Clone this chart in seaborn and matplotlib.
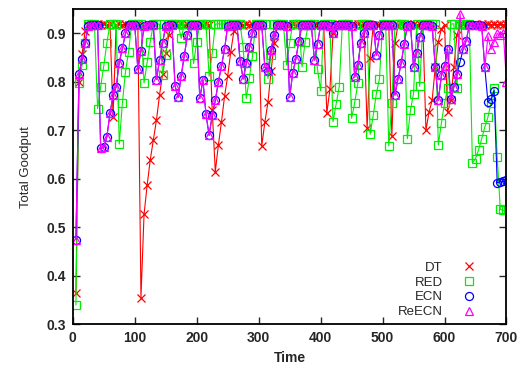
import numpy as np
import pandas as pd
import matplotlib
matplotlib.use("Agg")
import matplotlib.pyplot as plt
from matplotlib.lines import Line2D
import seaborn as sns

time = list(range(5, 705, 5))

dt = [
    0.365, 0.800, 0.858, 0.905, 0.918, 0.919, 0.918, 0.919, 0.918, 0.919,
    0.918, 0.919, 0.728, 0.918, 0.919, 0.918, 0.919, 0.918, 0.919, 0.918,
    0.919, 0.355, 0.527, 0.587, 0.639, 0.680, 0.721, 0.773, 0.817, 0.859,
    0.897, 0.918, 0.919, 0.918, 0.919, 0.918, 0.919, 0.918, 0.919, 0.918,
    0.919, 0.918, 0.919, 0.918, 0.743, 0.615, 0.670, 0.718, 0.771, 0.812,
    0.862, 0.905, 0.918, 0.919, 0.918, 0.919, 0.918, 0.919, 0.918, 0.919,
    0.668, 0.717, 0.758, 0.822, 0.880, 0.918, 0.919, 0.918, 0.919, 0.918,
    0.919, 0.918, 0.919, 0.918, 0.919, 0.918, 0.919, 0.918, 0.919, 0.918,
    0.918, 0.735, 0.785, 0.900, 0.918, 0.919, 0.918, 0.919, 0.918, 0.919,
    0.918, 0.919, 0.918, 0.919, 0.704, 0.850, 0.918, 0.919, 0.918, 0.919,
    0.918, 0.919, 0.688, 0.880, 0.918, 0.919, 0.918, 0.919, 0.918, 0.919,
    0.918, 0.919, 0.918, 0.700, 0.738, 0.762, 0.830, 0.883, 0.910, 0.918,
    0.738, 0.762, 0.830, 0.896, 0.918, 0.919, 0.918, 0.919, 0.918, 0.919,
    0.918, 0.919, 0.918, 0.919, 0.918, 0.919, 0.918, 0.919, 0.918, 0.919,
]

red = [
    0.340, 0.798, 0.835, 0.880, 0.919, 0.920, 0.919, 0.745, 0.790, 0.833,
    0.881, 0.919, 0.920, 0.919, 0.672, 0.756, 0.821, 0.862, 0.919, 0.920,
    0.919, 0.920, 0.798, 0.841, 0.883, 0.919, 0.920, 0.919, 0.814, 0.855,
    0.919, 0.920, 0.919, 0.920, 0.890, 0.919, 0.920, 0.919, 0.838, 0.883,
    0.919, 0.920, 0.919, 0.812, 0.859, 0.919, 0.920, 0.919, 0.920, 0.919,
    0.920, 0.919, 0.920, 0.919, 0.872, 0.766, 0.808, 0.853, 0.919, 0.920,
    0.919, 0.920, 0.807, 0.855, 0.919, 0.920, 0.919, 0.920, 0.835, 0.881,
    0.919, 0.920, 0.919, 0.831, 0.883, 0.919, 0.920, 0.919, 0.826, 0.782,
    0.919, 0.920, 0.919, 0.718, 0.754, 0.790, 0.919, 0.920, 0.919, 0.725,
    0.757, 0.797, 0.919, 0.920, 0.919, 0.692, 0.732, 0.776, 0.807, 0.919,
    0.920, 0.668, 0.756, 0.919, 0.920, 0.919, 0.920, 0.683, 0.742, 0.776,
    0.919, 0.791, 0.919, 0.920, 0.919, 0.920, 0.919, 0.670, 0.716, 0.756,
    0.787, 0.919, 0.920, 0.787, 0.919, 0.920, 0.919, 0.919, 0.633, 0.642,
    0.660, 0.683, 0.707, 0.727, 0.757, 0.787, 0.646, 0.537, 0.535, 0.536,
]

ecn = [
    0.475, 0.817, 0.847, 0.881, 0.915, 0.918, 0.917, 0.918, 0.663, 0.665,
    0.687, 0.735, 0.773, 0.790, 0.840, 0.869, 0.900, 0.917, 0.918, 0.917,
    0.826, 0.864, 0.916, 0.918, 0.917, 0.917, 0.805, 0.845, 0.881, 0.916,
    0.918, 0.917, 0.792, 0.768, 0.813, 0.854, 0.896, 0.917, 0.918, 0.917,
    0.766, 0.804, 0.733, 0.690, 0.731, 0.762, 0.800, 0.833, 0.868, 0.916,
    0.918, 0.917, 0.917, 0.844, 0.806, 0.838, 0.871, 0.901, 0.917, 0.918,
    0.917, 0.830, 0.822, 0.866, 0.896, 0.917, 0.918, 0.917, 0.916, 0.768,
    0.819, 0.847, 0.885, 0.917, 0.918, 0.917, 0.917, 0.845, 0.879, 0.917,
    0.918, 0.917, 0.916, 0.900, 0.917, 0.918, 0.917, 0.918, 0.917, 0.916,
    0.810, 0.835, 0.881, 0.900, 0.917, 0.918, 0.917, 0.855, 0.896, 0.917,
    0.918, 0.917, 0.917, 0.773, 0.807, 0.838, 0.879, 0.916, 0.918, 0.831,
    0.860, 0.892, 0.917, 0.918, 0.917, 0.916, 0.831, 0.762, 0.814, 0.833,
    0.867, 0.764, 0.789, 0.816, 0.841, 0.867, 0.885, 0.917, 0.918, 0.917,
    0.917, 0.916, 0.830, 0.759, 0.764, 0.782, 0.592, 0.594, 0.595, 0.597,
]

reecn = [
    0.475, 0.817, 0.847, 0.881, 0.915, 0.918, 0.917, 0.918, 0.663, 0.665,
    0.687, 0.735, 0.773, 0.790, 0.840, 0.869, 0.900, 0.917, 0.918, 0.917,
    0.826, 0.864, 0.916, 0.918, 0.917, 0.917, 0.805, 0.845, 0.881, 0.916,
    0.918, 0.917, 0.792, 0.768, 0.813, 0.854, 0.896, 0.917, 0.918, 0.917,
    0.766, 0.804, 0.733, 0.690, 0.731, 0.762, 0.800, 0.833, 0.868, 0.916,
    0.918, 0.917, 0.917, 0.844, 0.806, 0.838, 0.871, 0.901, 0.917, 0.918,
    0.917, 0.830, 0.822, 0.866, 0.896, 0.917, 0.918, 0.917, 0.916, 0.768,
    0.819, 0.847, 0.885, 0.917, 0.918, 0.917, 0.917, 0.845, 0.879, 0.917,
    0.918, 0.917, 0.916, 0.900, 0.917, 0.918, 0.917, 0.918, 0.917, 0.916,
    0.810, 0.835, 0.881, 0.900, 0.917, 0.918, 0.917, 0.855, 0.896, 0.917,
    0.918, 0.917, 0.917, 0.773, 0.807, 0.838, 0.879, 0.916, 0.918, 0.831,
    0.860, 0.892, 0.917, 0.918, 0.917, 0.916, 0.831, 0.762, 0.814, 0.833,
    0.867, 0.764, 0.789, 0.816, 0.941, 0.867, 0.885, 0.917, 0.918, 0.917,
    0.917, 0.916, 0.830, 0.894, 0.867, 0.883, 0.900, 0.896, 0.900, 0.800,
]

series_names = ["DT", "RED", "ECN", "ReECN"]
series_values = [dt, red, ecn, reecn]
colors = ["#ff0000", "#00ee00", "#0000ff", "#ff00ff"]
markers = ["x", "s", "o", "^"]
msizes = [5.8, 6.2, 5.8, 6.2]

sns.set_style("ticks")
plt.rcParams["font.family"] = ["Liberation Sans", "DejaVu Sans"]

fig = plt.figure(figsize=(5.2, 3.67), dpi=100)
ax = fig.add_axes([0.14, 0.116, 0.834, 0.859])

for name, vals, c, m, ms in zip(series_names, series_values, colors, markers, msizes):
    df = pd.DataFrame({"Time": time, "Goodput": vals})
    sns.lineplot(data=df, x="Time", y="Goodput", ax=ax, color=c, marker=m,
                 markersize=ms, markerfacecolor="none", markeredgecolor=c,
                 markeredgewidth=0.9, linewidth=0.8, legend=False,
                 estimator=None, sort=False)

ax.set_xlim(0, 700)
ax.set_ylim(0.3, 0.95)
ax.set_xticks(range(0, 701, 100))
ax.set_yticks([0.3, 0.4, 0.5, 0.6, 0.7, 0.8, 0.9])
ax.set_yticklabels(["0.3", "0.4", "0.5", "0.6", "0.7", "0.8", "0.9"])
ax.tick_params(direction="in", top=True, right=True, length=5, width=1,
               labelsize=10, pad=5)
for lab in ax.get_xticklabels() + ax.get_yticklabels():
    lab.set_fontweight("bold")
for sp in ax.spines.values():
    sp.set_linewidth(1.3)
    sp.set_color("black")

ax.set_xlabel("Time", fontsize=10, fontweight="bold", labelpad=4)
ax.set_ylabel("Total Goodput", fontsize=9.5, labelpad=10)

handles = [Line2D([], [], color=c, marker=m, linestyle="none", markersize=ms,
                  markerfacecolor="none", markeredgecolor=c, markeredgewidth=0.9)
           for c, m, ms in zip(colors, markers, msizes)]
ax.legend(handles, series_names, loc="lower right", bbox_to_anchor=(0.95, -0.01),
          frameon=False, markerfirst=False, fontsize=9.5, handlelength=1.0,
          handletextpad=1.5, labelspacing=0.2, borderaxespad=0.3)

fig.savefig("out.png", dpi=100)
